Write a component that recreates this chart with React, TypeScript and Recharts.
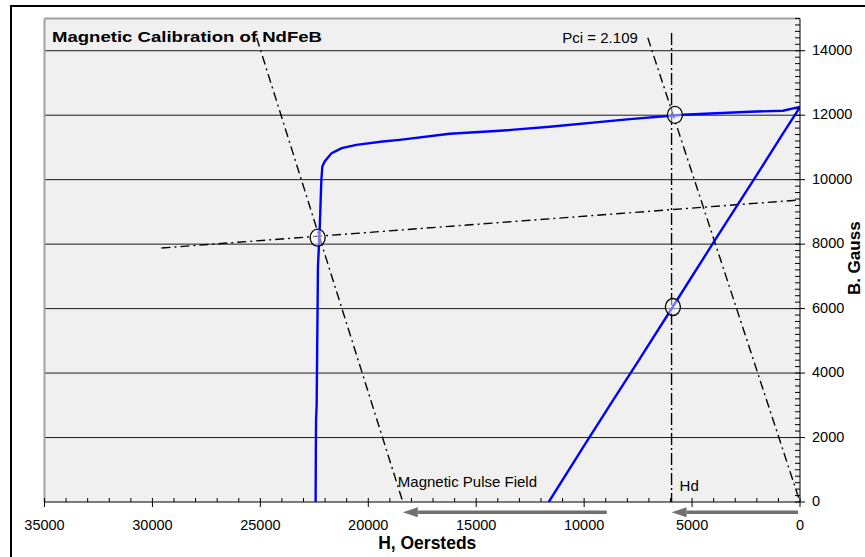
import React from 'react';
import {
  ComposedChart,
  Line,
  Scatter,
  XAxis,
  YAxis,
  ReferenceLine,
  ReferenceArea,
  ReferenceDot,
  Label,
} from 'recharts';

const FONT = '"Liberation Sans", Arial, sans-serif';

// Demagnetization curve (H in Oersteds, B in Gauss)
const demagH = [22440, 22430, 22420, 22392, 22369, 22345, 22332, 22253, 22174, 22128, 22021, 21697, 21233, 20550, 19332, 18545, 16226, 13908, 11590, 7881, 5424, 2318, 788, 0];
const demagB = [0, 1500, 2545, 3010, 4718, 6270, 7300, 8440, 9995, 10408, 10563, 10824, 10979, 11081, 11184, 11236, 11423, 11516, 11640, 11879, 12013, 12106, 12140, 12260];

// Recoil / load line of the magnet
const recoilH = [11640, 10000, 8650, 7500, 5900, 4000, 2000, 800, 0];
const recoilB = [0, 1750, 3170, 4360, 6050, 8060, 10150, 11420, 12250];

// Dash-dot construction lines
const pulseLineH = [25170, 18400];
const pulseLineB = [14400, 0];
const pciLineH = [7050, 0];
const pciLineB = [14400, 0];
const permLineH = [29580, 0];
const permLineB = [7880, 9370];
const hdLineH = [5950, 5950];
const hdLineB = [14550, 0];

// Intersection markers
const markerH = [22345, 5795, 5888];
const markerB = [8200, 12010, 6050];

// Arrows under the H axis
const arrowFromH = [8950, 90];
const arrowToH = [18400, 5950];
const arrowB = -320;

// Axes
const xMajorTicks = [0, 5000, 10000, 15000, 20000, 25000, 30000, 35000];
const xMinorStep = 1000;
const yMajorTicks = [0, 2000, 4000, 6000, 8000, 10000, 12000, 14000];
const yMinorStep = 200;
const xMax = 35000;
const yMax = 15000;

const xTicks: number[] = [];
for (let v = 0; v <= xMax; v += xMinorStep) xTicks.push(v);
const yTicks: number[] = [];
for (let v = 0; v <= yMax; v += yMinorStep) yTicks.push(v);

const pts = (h: number[], b: number[]) => h.map((x, i) => ({ h: x, b: b[i] }));

const demag = pts(demagH, demagB);
const recoil = pts(recoilH, recoilB);
const pulseLine = pts(pulseLineH, pulseLineB);
const pciLine = pts(pciLineH, pciLineB);
const permLine = pts(permLineH, permLineB);
const hdLine = pts(hdLineH, hdLineB);
const markers = pts(markerH, markerB);

const XTick = (props: any) => {
  const { x, y, payload } = props;
  const v = payload.value;
  const major = xMajorTicks.includes(v);
  return (
    <g>
      <line x1={x} x2={x} y1={y - 4} y2={major ? y + 5 : y} stroke="#000" strokeWidth={1} />
      {major && (
        <text x={x} y={y + 28} textAnchor="middle" fontSize={14.5} fontFamily={FONT} fill="#000">
          {v}
        </text>
      )}
    </g>
  );
};

const YTick = (props: any) => {
  const { x, y, payload } = props;
  const v = payload.value;
  const major = yMajorTicks.includes(v);
  return (
    <g>
      <line x1={x - 5} x2={major ? x + 5 : x} y1={y} y2={y} stroke="#000" strokeWidth={1} />
      {major && (
        <text x={x + 12} y={y + 4} textAnchor="start" fontSize={14.5} fontFamily={FONT} fill="#000">
          {v}
        </text>
      )}
    </g>
  );
};

const XTitle = (props: any) => {
  const vb = props.viewBox || {};
  return (
    <text x={vb.x + vb.width / 2 + 5} y={vb.y + 47} textAnchor="middle" fontSize={17.5} fontWeight="bold" fontFamily={FONT} fill="#000">
      H, Oersteds
    </text>
  );
};

const YTitle = (props: any) => {
  const vb = props.viewBox || {};
  const cx = vb.x + 60;
  const cy = vb.y + vb.height / 2 - 2;
  return (
    <text x={cx} y={cy} transform={`rotate(-90, ${cx}, ${cy})`} textAnchor="middle" fontSize={17} fontWeight="bold" fontFamily={FONT} fill="#000">
      B. Gauss
    </text>
  );
};

const Ellipse = (props: any) => (
  <ellipse cx={props.cx} cy={props.cy} rx={7.5} ry={8.5} fill="#ffffff" fillOpacity={0.45} stroke="#000" strokeWidth={1.3} />
);

const Arrow = (props: any) => {
  const { x1, y1, x2, y2 } = props;
  const dir = x2 > x1 ? 1 : -1;
  const headLen = 15;
  const headHalf = 5;
  return (
    <g>
      <line x1={x1} y1={y1} x2={x2 - dir * headLen} y2={y2} stroke="#707070" strokeWidth={3.5} />
      <polygon
        points={`${x2},${y2} ${x2 - dir * headLen},${y2 - headHalf} ${x2 - dir * headLen},${y2 + headHalf}`}
        fill="#707070"
      />
    </g>
  );
};

const textShape = (text: string, dx: number, dy: number, anchor: string) => (props: any) => (
  <text x={props.cx + dx} y={props.cy + dy} textAnchor={anchor} fontSize={15} fontFamily={FONT} fill="#000">
    {text}
  </text>
);

const DASH = '9 4 2 4';

export default function App() {
  return (
    <div style={{ position: 'fixed', left: 0, top: 0, width: 865, height: 557, overflow: 'hidden', background: '#fff' }}>
      <div
        style={{
          position: 'absolute',
          left: 10,
          top: 5,
          width: 900,
          height: 600,
          borderTop: '2px solid #000',
          borderLeft: '2px solid #000',
          boxSizing: 'border-box',
        }}
      />
      <div style={{ position: 'absolute', left: 0, top: 0 }}>
        <ComposedChart width={865} height={557} margin={{ top: 18.5, right: 15, bottom: 15, left: 44.5 }}>
          <ReferenceArea x1={0} x2={xMax} y1={0} y2={yMax} fill="#f0f0f0" fillOpacity={1} stroke="none" />
          {yMajorTicks.filter((v) => v > 0).map((v) => (
            <ReferenceLine key={'g' + v} y={v} stroke="#1a1a1a" strokeWidth={1} />
          ))}
          <ReferenceLine y={yMax} stroke="#a0a0a0" strokeWidth={2} />
          <ReferenceLine x={xMax} stroke="#a0a0a0" strokeWidth={2} />
          <XAxis
            dataKey="h"
            type="number"
            domain={[0, xMax]}
            reversed
            allowDataOverflow
            ticks={xTicks}
            interval={0}
            tickSize={0}
            tickMargin={0}
            tickLine={false}
            axisLine={{ stroke: '#000', strokeWidth: 1 }}
            tick={<XTick />}
            height={40}
          >
            <Label content={<XTitle />} />
          </XAxis>
          <YAxis
            dataKey="b"
            type="number"
            orientation="right"
            domain={[0, yMax]}
            allowDataOverflow
            ticks={yTicks}
            interval={0}
            tickSize={0}
            tickMargin={0}
            tickLine={false}
            axisLine={{ stroke: '#000', strokeWidth: 1 }}
            tick={<YTick />}
            width={50}
          >
            <Label content={<YTitle />} />
          </YAxis>
          <Line data={pulseLine} dataKey="b" type="linear" stroke="#000" strokeWidth={1.4} strokeDasharray={DASH} dot={false} isAnimationActive={false} />
          <Line data={pciLine} dataKey="b" type="linear" stroke="#000" strokeWidth={1.4} strokeDasharray={DASH} dot={false} isAnimationActive={false} />
          <Line data={permLine} dataKey="b" type="linear" stroke="#000" strokeWidth={1.4} strokeDasharray={DASH} dot={false} isAnimationActive={false} />
          <Line data={hdLine} dataKey="b" type="linear" stroke="#000" strokeWidth={1.4} strokeDasharray="12 3 2 3" dot={false} isAnimationActive={false} />
          <Line data={demag} dataKey="b" type="linear" stroke="#0000ff" strokeWidth={2.4} dot={false} isAnimationActive={false} />
          <Line data={recoil} dataKey="b" type="linear" stroke="#0000ff" strokeWidth={2.4} dot={false} isAnimationActive={false} />
          <Scatter data={markers} dataKey="b" shape={<Ellipse />} isAnimationActive={false} />
          {arrowFromH.map((h, i) => (
            <ReferenceLine
              key={'a' + i}
              segment={[{ x: h, y: arrowB }, { x: arrowToH[i], y: arrowB }]}
              ifOverflow="visible"
              shape={<Arrow />}
            />
          ))}
          <ReferenceDot x={pciLineH[0]} y={pciLineB[0]} r={0} ifOverflow="visible" shape={textShape('Pci = 2.109', -10, 5, 'end')} />
          <ReferenceDot x={pulseLineH[1]} y={pulseLineB[1]} r={0} ifOverflow="visible" shape={textShape('Magnetic Pulse Field', -5, -15, 'start')} />
          <ReferenceDot x={hdLineH[1]} y={hdLineB[1]} r={0} ifOverflow="visible" shape={textShape('Hd', 8, -11, 'start')} />
        </ComposedChart>
      </div>
      <svg style={{ position: 'absolute', left: 0, top: 0, pointerEvents: 'none' }} width={865} height={60}>
        <text x={52} y={42} fontSize={15.5} fontWeight="bold" fontFamily={FONT} fill="#000" textLength={270} lengthAdjust="spacingAndGlyphs">
          Magnetic Calibration of NdFeB
        </text>
      </svg>
    </div>
  );
}
